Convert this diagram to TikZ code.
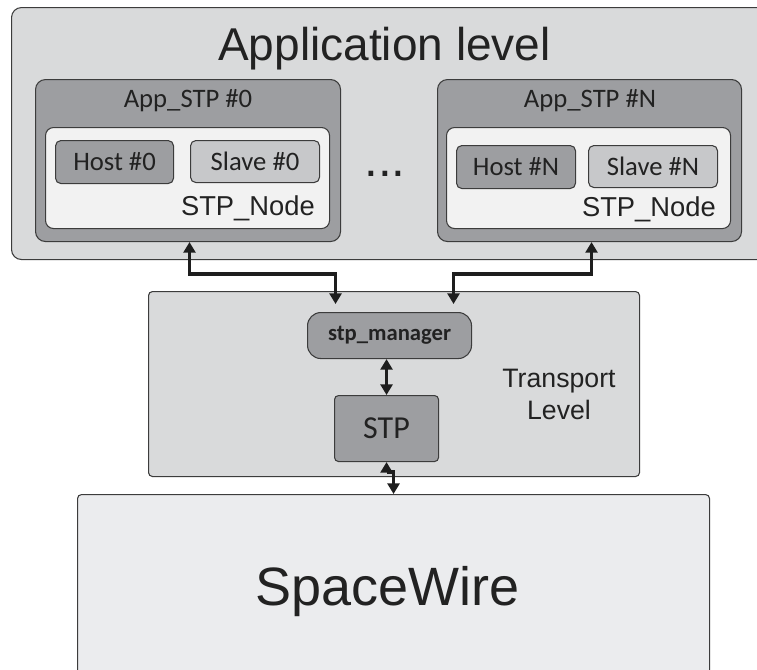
\documentclass[tikz,border=0pt]{standalone}
\usepackage{fontspec}
\setmainfont{Liberation Sans}
\newfontfamily\calib{Carlito}
\usetikzlibrary{arrows.meta,calc}
\definecolor{bordc}{HTML}{3C3C3C}
\definecolor{applc}{HTML}{D9DADB}
\definecolor{midgc}{HTML}{9D9EA1}
\definecolor{whitc}{HTML}{F2F2F2}
\definecolor{slavc}{HTML}{C7C8CA}
\definecolor{swc}{HTML}{EBECEE}
\definecolor{arrc}{HTML}{1E1E1E}
\definecolor{txtc}{HTML}{222222}
\begin{document}
\begin{tikzpicture}[x=0.75pt,y=-0.75pt,
  sz/.style 2 args={minimum width=#1*0.75pt,minimum height=#2*0.75pt},
  box/.style={draw=bordc,line width=0.8pt,inner sep=0pt,anchor=north west},
  lbl/.style={inner sep=0pt,text=txtc},
  tip/.tip={Triangle[width=9pt,length=8pt]},
  link/.style={line width=2.7pt,draw=arrc,tip-tip},
]
\clip (0,0) rectangle (757,669);
\fill[white] (0,0) rectangle (757,669);
% Application level
\node[box,sz={769}{252},fill=applc,rounded corners=7.5pt] (app) at (11,7) {};
\node[lbl,anchor=base,font=\fontsize{34.5}{40}\selectfont] (apptitle) at (384.5,60) {Application level};
% Left App_STP
\node[box,sz={305}{162},fill=midgc,rounded corners=7.5pt] (appL) at (35,79) {};
\node[lbl,anchor=base,font=\calib\fontsize{20}{24}\selectfont] (appLt) at (188,107) {App\_STP \#0};
\node[box,sz={284}{101},fill=whitc,rounded corners=6pt] (innL) at (45,127) {};
\node[box,sz={118}{43},fill=midgc,rounded corners=4pt,font=\calib\fontsize{20}{24}\selectfont,text=txtc] (hostL) at (55,140) {Host \#0};
\node[box,sz={129}{42},fill=slavc,rounded corners=4pt,font=\calib\fontsize{20}{24}\selectfont,text=txtc] (slaveL) at (190,140) {Slave \#0};
\node[lbl,anchor=base east,font=\fontsize{20.5}{24}\selectfont] (nodeL) at (315,215) {STP\_Node};
% Right App_STP
\node[box,sz={304}{162},fill=midgc,rounded corners=7.5pt] (appR) at (437,79) {};
\node[lbl,anchor=base,font=\calib\fontsize{20}{24}\selectfont] (appRt) at (590,107) {App\_STP \#N};
\node[box,sz={284}{101},fill=whitc,rounded corners=6pt] (innR) at (446,127) {};
\node[box,sz={119}{43},fill=midgc,rounded corners=4pt,font=\calib\fontsize{20}{24}\selectfont,text=txtc] (hostR) at (456,145) {Host \#N};
\node[box,sz={129}{42},fill=slavc,rounded corners=4pt,font=\calib\fontsize{20}{24}\selectfont,text=txtc] (slaveR) at (588,145) {Slave \#N};
\node[lbl,anchor=base east,font=\fontsize{20.5}{24}\selectfont] (nodeR) at (716,216) {STP\_Node};
% dots
\node[lbl,anchor=base,font=\fontsize{37}{40}\selectfont] (dots) at (385,176) {...};
% Transport level
\node[box,sz={491}{185},fill=applc,rounded corners=3pt] (trans) at (148,291) {};
\node[lbl,align=center,font=\fontsize{20}{24}\selectfont] (transt) at (559,394) {Transport\\Level};
\node[box,sz={164}{46},fill=midgc,rounded corners=10pt,font=\calib\bfseries\fontsize{17}{20}\selectfont,text=txtc] (mgr) at (307,312) {stp\_manager};
\node[box,sz={104}{66},fill=midgc,rounded corners=3pt,font=\calib\fontsize{24}{28}\selectfont,text=txtc] (stp) at (334,395) {STP};
% SpaceWire
\node[box,sz={632}{200},fill=swc,rounded corners=3pt] (sw) at (77,494) {};
\node[lbl,anchor=base,font=\fontsize{40.5}{46}\selectfont] (swt) at (387.5,605) {SpaceWire};
% connectors
\draw[link] ([xshift=1.1pt]appL.south) -- ++(0,32) -| ([xshift=-40.5pt,yshift=6pt]mgr.north);
\draw[link] ([xshift=1.5pt]appR.south) -- ++(0,32) -| ([xshift=48pt,yshift=6pt]mgr.north);
\draw[link] (stp.north) -- (stp.north |- mgr.south);
\draw[link] (stp.south) -- ++(0,10) -| (sw.north);
\end{tikzpicture}
\end{document}
